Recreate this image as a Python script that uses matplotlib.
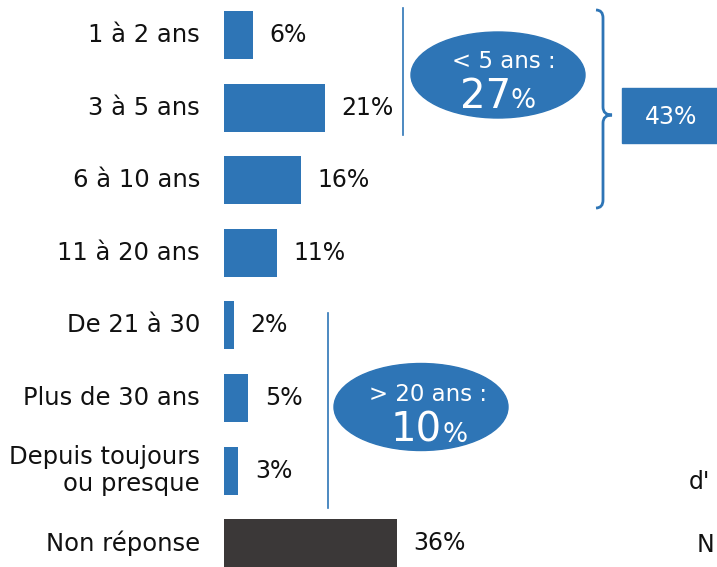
import matplotlib.pyplot as plt
from matplotlib.patches import Ellipse, Rectangle, PathPatch
from matplotlib.path import Path

categories = ["1 à 2 ans", "3 à 5 ans", "6 à 10 ans", "11 à 20 ans",
              "De 21 à 30", "Plus de 30 ans", "Depuis toujours\nou presque",
              "Non réponse"]
values = [6, 21, 16, 11, 2, 5, 3, 36]
bar_colors = ["#2E75B6"] * 7 + ["#3B3838"]

group_low_label = "< 5 ans :"
group_low_value = "27"
group_high_label = "> 20 ans :"
group_high_value = "10"
total_box = "43%"

BLUE = "#2E75B6"
W, H = 717, 567
fig = plt.figure(figsize=(W / 100, H / 100), dpi=100)

# main axes: x in %, y in category index
px_per_pct = 4.8
x0_px = 224
y0_px, dy_px = 35, 72.6
ax = fig.add_axes([0, 0, 1, 1])
ax.set_xlim(-x0_px / px_per_pct, (W - x0_px) / px_per_pct)
ax.set_ylim((H - y0_px) / dy_px, -y0_px / dy_px)
ax.axis("off")

ypos = list(range(len(values)))
ax.barh(ypos, values, height=0.66, color=bar_colors)
for y, v, c in zip(ypos, values, categories):
    ax.text(v + 3.5, y, f"{v}%", ha="left", va="center", fontsize=17, color="#111111")
    ax.text(-5, y, c, ha="right", va="center", fontsize=17.5, color="#111111",
            linespacing=1.15)

# annotation overlay in pixel coordinates
ov = fig.add_axes([0, 0, 1, 1])
ov.set_xlim(0, W)
ov.set_ylim(H, 0)
ov.axis("off")

ov.plot([403, 403], [8, 135], color=BLUE, lw=1.2)
ov.plot([328, 328], [313, 508], color=BLUE, lw=1.2)

ov.add_patch(Ellipse((498, 75), 174, 86, color=BLUE))
ov.text(504, 68, group_low_label, ha="center", va="baseline", fontsize=16.5, color="white")
ov.text(511, 108, group_low_value, ha="right", va="baseline", fontsize=29, color="white")
ov.text(511, 108, "%", ha="left", va="baseline", fontsize=19, color="white")

ov.add_patch(Ellipse((421, 407), 174, 87, color=BLUE))
ov.text(428, 401, group_high_label, ha="center", va="baseline", fontsize=16.5, color="white")
ov.text(442, 442, group_high_value, ha="right", va="baseline", fontsize=29, color="white")
ov.text(442, 442, "%", ha="left", va="baseline", fontsize=19, color="white")

# curly brace
xe, xm, xt = 596, 603, 612
yt, yc, yb = 10, 115, 208
verts = [(xe, yt), (xm, yt), (xm, yt + 8), (xm, yc - 8), (xm, yc), (xt, yc),
         (xm, yc), (xm, yc + 8), (xm, yb - 8), (xm, yb), (xe, yb)]
codes = [Path.MOVETO, Path.CURVE3, Path.CURVE3, Path.LINETO, Path.CURVE3, Path.CURVE3,
         Path.CURVE3, Path.CURVE3, Path.LINETO, Path.CURVE3, Path.CURVE3]
ov.add_patch(PathPatch(Path(verts, codes), fill=False, edgecolor=BLUE, lw=2))

ov.add_patch(Rectangle((622, 88), 100, 55, color=BLUE))
ov.text(671, 117, total_box, ha="center", va="center", fontsize=17, color="white")

# cut-off text from the neighbouring panel
ov.text(689, 482, "d'", ha="left", va="center", fontsize=17, color="#111111")
ov.text(697, 545, "N", ha="left", va="center", fontsize=17, color="#111111")

fig.savefig("out.png", dpi=100)
